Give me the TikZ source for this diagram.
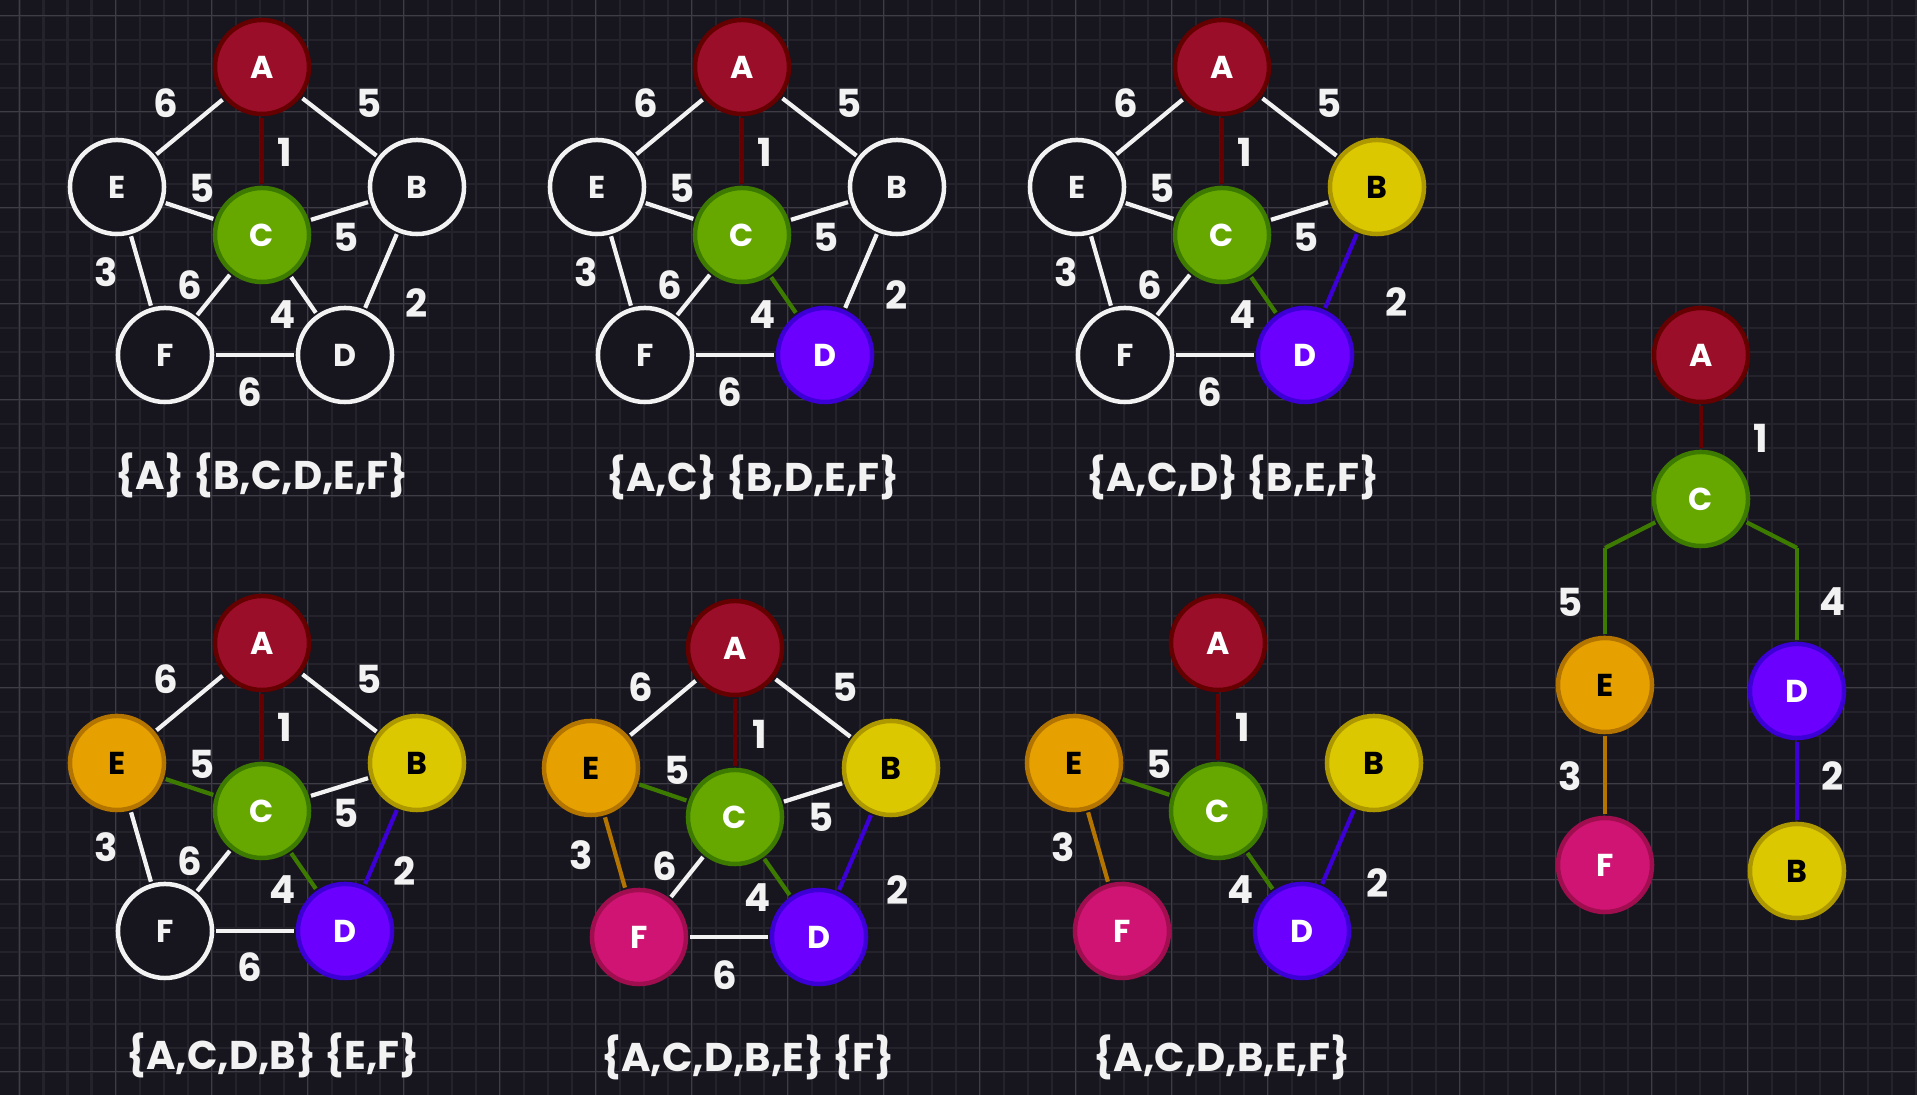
\documentclass[tikz,border=0pt]{standalone}
\usepackage{fontspec}
\setmainfont{Poppins}
\definecolor{bgdark}{HTML}{17151E}
\definecolor{minorgray}{HTML}{24232C}
\definecolor{majorgray}{HTML}{3E3D46}
\definecolor{chalk}{HTML}{F2F2F2}
\definecolor{afill}{HTML}{9A0E2A}
\definecolor{aline}{HTML}{640000}
\definecolor{cfill}{HTML}{66A800}
\definecolor{cline}{HTML}{3D7A00}
\definecolor{dfill}{HTML}{6C00FF}
\definecolor{dline}{HTML}{3C00D6}
\definecolor{bfill}{HTML}{DCC800}
\definecolor{bline}{HTML}{AD9800}
\definecolor{efill}{HTML}{E6A100}
\definecolor{eline}{HTML}{B37400}
\definecolor{ffill}{HTML}{D01474}
\definecolor{fline}{HTML}{A00E4F}
\tikzset{
    vertex/.style = {
        circle, draw=chalk, fill=bgdark,
        line width=0.045cm,
        minimum size=0.94cm, inner sep=0pt,
        text=chalk, font=\fontsize{9}{9}\selectfont\bfseries
    },
    avert/.style = {vertex, fill=afill, draw=aline, text=white},
    cvert/.style = {vertex, fill=cfill, draw=cline, text=white},
    dvert/.style = {vertex, fill=dfill, draw=dline, text=white},
    bvert/.style = {vertex, fill=bfill, draw=bline, text=black},
    evert/.style = {vertex, fill=efill, draw=eline, text=black},
    fvert/.style = {vertex, fill=ffill, draw=fline, text=white},
    link/.style = {
        line width=0.042cm, draw=chalk,
        shorten <=0.02cm, shorten >=0.02cm
    },
    alink/.style = {link, draw=aline},
    clink/.style = {link, draw=cline},
    dlink/.style = {link, draw=dline},
    elink/.style = {link, draw=eline},
    weight/.style = {
        text=chalk, inner sep=0pt,
        font=\fontsize{11}{11}\selectfont\bfseries
    },
    caption/.style = {
        text=chalk, inner sep=0pt, anchor=base,
        font=\fontsize{11.4}{12}\selectfont\bfseries
    },
    minorgrid/.style = {draw=minorgray, line width=0.02cm},
    majorgrid/.style = {draw=majorgray, line width=0.01cm}
}
\begin{document}
\begin{tikzpicture}[x=0.01cm, y=-0.01cm]

\useasboundingbox (0,0) rectangle (1917,1095);
\fill[bgdark] (0,0) rectangle (1917,1095);

% canvas grid
\foreach \k in {0,...,80} \draw[minorgrid] ({-4.5+24*\k},0) -- ++(0,1095);
\foreach \k in {0,...,46} \draw[minorgrid] (0,{-8+24*\k}) -- ++(1917,0);
\foreach \k in {0,...,19} \draw[majorgrid] ({19.5+96*\k},0) -- ++(0,1095);
\foreach \k in {0,...,11} \draw[majorgrid] (0,{16+96*\k}) -- ++(1917,0);

% step 1
\begin{scope}[shift={(262,67)}]
\node (a1) [avert] at (0,0) {A};
\node (e1) [vertex] at (-145,120) {E};
\node (b1) [vertex] at (155,120) {B};
\node (c1) [cvert] at (0,168) {C};
\node (f1) [vertex] at (-97,288) {F};
\node (d1) [vertex] at (83,288) {D};
\draw [link] (a1) -- (e1);
\draw [link] (a1) -- (b1);
\draw [alink] (a1) -- (c1);
\draw [link] (e1) -- (c1);
\draw [link] (c1) -- (b1);
\draw [link] (e1) -- (f1);
\draw [link] (c1) -- (f1);
\draw [link] (c1) -- (d1);
\draw [link] (b1) -- (d1);
\draw [link] (f1) -- (d1);
\foreach \n/\x/\y/\w in {ae/-96/36/6, ab/107/36/5, ac/23/85/1, ec/-60/121/5, cb/84/170/5,
    ef/-156/205/3, cf/-72/218/6, cd/21/248/4, bd/155/236/2, fd/-12/325/6}
    \node (w1\n) [weight] at (\x,\y) {\w};
\node (cap1) [caption] at (0,423) {\{A\} \{B,C,D,E,F\}};
\end{scope}

% step 2
\begin{scope}[shift={(742,67)}]
\node (a2) [avert] at (0,0) {A};
\node (e2) [vertex] at (-145,120) {E};
\node (b2) [vertex] at (155,120) {B};
\node (c2) [cvert] at (0,168) {C};
\node (f2) [vertex] at (-97,288) {F};
\node (d2) [dvert] at (83,288) {D};
\draw [link] (a2) -- (e2);
\draw [link] (a2) -- (b2);
\draw [alink] (a2) -- (c2);
\draw [link] (e2) -- (c2);
\draw [link] (c2) -- (b2);
\draw [link] (e2) -- (f2);
\draw [link] (c2) -- (f2);
\draw [clink] (c2) -- (d2);
\draw [link] (b2) -- (d2);
\draw [link] (f2) -- (d2);
\foreach \n/\x/\y/\w in {ae/-96/36/6, ab/107/36/5, ac/23/85/1, ec/-60/121/5, cb/84/170/5,
    ef/-156/205/3, cf/-72/218/6, cd/21/248/4, bd/155/228/2, fd/-12/325/6}
    \node (w2\n) [weight] at (\x,\y) {\w};
\node (cap2) [caption] at (11,425) {\{A,C\} \{B,D,E,F\}};
\end{scope}

% step 3
\begin{scope}[shift={(1222,67)}]
\node (a3) [avert] at (0,0) {A};
\node (e3) [vertex] at (-145,120) {E};
\node (b3) [bvert] at (155,120) {B};
\node (c3) [cvert] at (0,168) {C};
\node (f3) [vertex] at (-97,288) {F};
\node (d3) [dvert] at (83,288) {D};
\draw [link] (a3) -- (e3);
\draw [link] (a3) -- (b3);
\draw [alink] (a3) -- (c3);
\draw [link] (e3) -- (c3);
\draw [link] (c3) -- (b3);
\draw [link] (e3) -- (f3);
\draw [link] (c3) -- (f3);
\draw [clink] (c3) -- (d3);
\draw [dlink] (d3) -- (b3);
\draw [link] (f3) -- (d3);
\foreach \n/\x/\y/\w in {ae/-96/36/6, ab/107/36/5, ac/23/85/1, ec/-60/121/5, cb/84/170/5,
    ef/-156/205/3, cf/-72/218/6, cd/21/248/4, bd/175/235/2, fd/-12/325/6}
    \node (w3\n) [weight] at (\x,\y) {\w};
\node (cap3) [caption] at (11,425) {\{A,C,D\} \{B,E,F\}};
\end{scope}

% step 4
\begin{scope}[shift={(262,643)}]
\node (a4) [avert] at (0,0) {A};
\node (e4) [evert] at (-145,120) {E};
\node (b4) [bvert] at (155,120) {B};
\node (c4) [cvert] at (0,168) {C};
\node (f4) [vertex] at (-97,288) {F};
\node (d4) [dvert] at (83,288) {D};
\draw [link] (a4) -- (e4);
\draw [link] (a4) -- (b4);
\draw [alink] (a4) -- (c4);
\draw [clink] (c4) -- (e4);
\draw [link] (c4) -- (b4);
\draw [link] (e4) -- (f4);
\draw [link] (c4) -- (f4);
\draw [clink] (c4) -- (d4);
\draw [dlink] (d4) -- (b4);
\draw [link] (f4) -- (d4);
\foreach \n/\x/\y/\w in {ae/-96/36/6, ab/107/36/5, ac/23/84/1, ec/-60/121/5, cb/84/170/5,
    ef/-156/204/3, cf/-72/218/6, cd/21/247/4, bd/143/228/2, fd/-12/324/6}
    \node (w4\n) [weight] at (\x,\y) {\w};
\node (cap4) [caption] at (11,427) {\{A,C,D,B\} \{E,F\}};
\end{scope}

% step 5
\begin{scope}[shift={(735,648)}]
\node (a5) [avert] at (0,0) {A};
\node (e5) [evert] at (-144,120) {E};
\node (b5) [bvert] at (156,120) {B};
\node (c5) [cvert] at (0,169) {C};
\node (f5) [fvert] at (-96,289) {F};
\node (d5) [dvert] at (84,289) {D};
\draw [link] (a5) -- (e5);
\draw [link] (a5) -- (b5);
\draw [alink] (a5) -- (c5);
\draw [clink] (c5) -- (e5);
\draw [link] (c5) -- (b5);
\draw [elink] (e5) -- (f5);
\draw [link] (c5) -- (f5);
\draw [clink] (c5) -- (d5);
\draw [dlink] (d5) -- (b5);
\draw [link] (f5) -- (d5);
\foreach \n/\x/\y/\w in {ae/-94/39/6, ab/110/39/5, ac/25/86/1, ec/-58/122/5, cb/86/169/5,
    ef/-154/207/3, cf/-70/218/6, cd/23/250/4, bd/163/242/2, fd/-10/327/6}
    \node (w5\n) [weight] at (\x,\y) {\w};
\node (cap5) [caption] at (13,424) {\{A,C,D,B,E\} \{F\}};
\end{scope}

% step 6
\begin{scope}[shift={(1218,643)}]
\node (a6) [avert] at (0,0) {A};
\node (e6) [evert] at (-144,120) {E};
\node (b6) [bvert] at (156,120) {B};
\node (c6) [cvert] at (0,168) {C};
\node (f6) [fvert] at (-96,288) {F};
\node (d6) [dvert] at (84,288) {D};
\draw [alink] (a6) -- (c6);
\draw [clink] (c6) -- (e6);
\draw [elink] (e6) -- (f6);
\draw [clink] (c6) -- (d6);
\draw [dlink] (d6) -- (b6);
\foreach \n/\x/\y/\w in {ac/25/84/1, ec/-59/121/5, ef/-155/204/3, cd/23/247/4, bd/160/240/2}
    \node (w6\n) [weight] at (\x,\y) {\w};
\node (cap6) [caption] at (4,429) {\{A,C,D,B,E,F\}};
\end{scope}

% resulting tree
\node (ta) [avert] at (1701,355) {A};
\node (tc) [cvert] at (1701,499) {C};
\node (te) [evert] at (1605,685) {E};
\node (td) [dvert] at (1797,691) {D};
\node (tf) [fvert] at (1605,865) {F};
\node (tb) [bvert] at (1797,871) {B};
\coordinate (tce) at (1605,548);
\coordinate (tcd) at (1797,548);
\draw [alink] (ta) -- (tc);
\draw [clink, shorten >=0pt] (tc) -- (tce);
\draw [clink, shorten <=0pt] (tce) -- (te);
\draw [clink, shorten >=0pt] (tc) -- (tcd);
\draw [clink, shorten <=0pt] (tcd) -- (td);
\draw [elink] (te) -- (tf);
\draw [dlink] (td) -- (tb);
\node (tw1) [weight] at (1761,438) {1};
\node (tw5) [weight] at (1570,602) {5};
\node (tw4) [weight] at (1833,602) {4};
\node (tw3) [weight] at (1570,776) {3};
\node (tw2) [weight] at (1833,776) {2};

\end{tikzpicture}
\end{document}
